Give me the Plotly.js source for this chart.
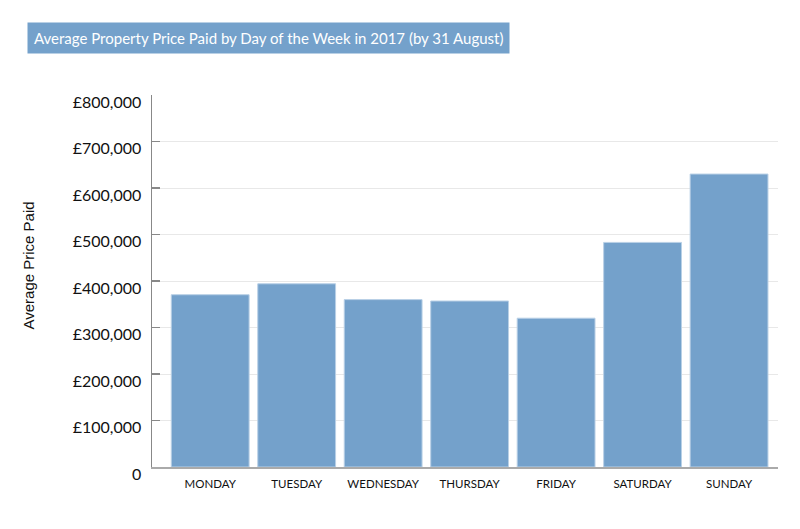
<!DOCTYPE html>
<html>
<head>
<meta charset="utf-8">
<script src="https://cdn.plot.ly/plotly-3.0.1.min.js"></script>
<style>html,body{margin:0;padding:0;background:#fff;}#chart{width:800px;height:529px;}</style>
</head>
<body>
<div id="chart"></div>
<script>
const days = ["MONDAY", "TUESDAY", "WEDNESDAY", "THURSDAY", "FRIDAY", "SATURDAY", "SUNDAY"];
const avgPrice = [370500, 394000, 360000, 357000, 320000, 483000, 630000];
const yTickVals = [0, 100000, 200000, 300000, 400000, 500000, 600000, 700000, 800000];
const yTickText = ["0", "£100,000", "£200,000", "£300,000", "£400,000", "£500,000", "£600,000", "£700,000", "£800,000"];
const chartTitle = "Average Property Price Paid by Day of the Week in 2017 (by 31 August)";
const yTitle = "Average Price Paid";

const trace = {
  type: "bar",
  x: days,
  y: avgPrice,
  marker: {color: "#74a1cb", line: {color: "#b9d0e6", width: 1}},
  hoverinfo: "none"
};

const plotW = 626, plotH = 372, mL = 152, mB = 62;

const layout = {
  width: 800,
  height: 529,
  margin: {l: mL, r: 22, t: 95, b: mB},
  paper_bgcolor: "#ffffff",
  plot_bgcolor: "#ffffff",
  showlegend: false,
  bargap: 0.1,
  font: {family: "Lato, 'Open Sans', sans-serif", color: "#111"},
  xaxis: {
    type: "category",
    range: [-0.673, 6.566],
    showline: true,
    linecolor: "#aaaaaa",
    linewidth: 2,
    showgrid: false,
    ticks: "",
    tickfont: {size: 11.5, family: "Lato, sans-serif", color: "#111"},
    ticklabelstandoff: 5
  },
  yaxis: {
    range: [0, 800000],
    tickvals: yTickVals,
    ticktext: yTickText,
    showline: true,
    linecolor: "#888888",
    linewidth: 1.5,
    ticks: "inside",
    ticklen: 8,
    tickcolor: "#888888",
    tickwidth: 1.2,
    showgrid: true,
    gridcolor: "#e8e8e8",
    gridwidth: 1,
    zeroline: false,
    tickfont: {size: 16, family: "Lato, sans-serif", color: "#111"},
    ticklabelstandoff: 6,
    ticklabelshift: 7
  },
  annotations: [{
    xref: "paper", yref: "paper",
    x: (27 - mL) / plotW, y: (529 - mB - 22) / plotH,
    xanchor: "left", yanchor: "top",
    text: chartTitle,
    showarrow: false,
    bgcolor: "#74a1cb",
    borderpad: 6,
    font: {size: 15, color: "#ffffff", family: "Lato, sans-serif"}
  }, {
    xref: "paper", yref: "paper",
    x: (28 - mL) / plotW, y: (529 - mB - 265.5) / plotH,
    xanchor: "center", yanchor: "middle",
    text: yTitle,
    textangle: -90,
    showarrow: false,
    font: {size: 15, color: "#111", family: "'Liberation Sans', Arial, sans-serif"}
  }]
};

Plotly.newPlot("chart", [trace], layout, {displayModeBar: false, staticPlot: true});
</script>
</body>
</html>
